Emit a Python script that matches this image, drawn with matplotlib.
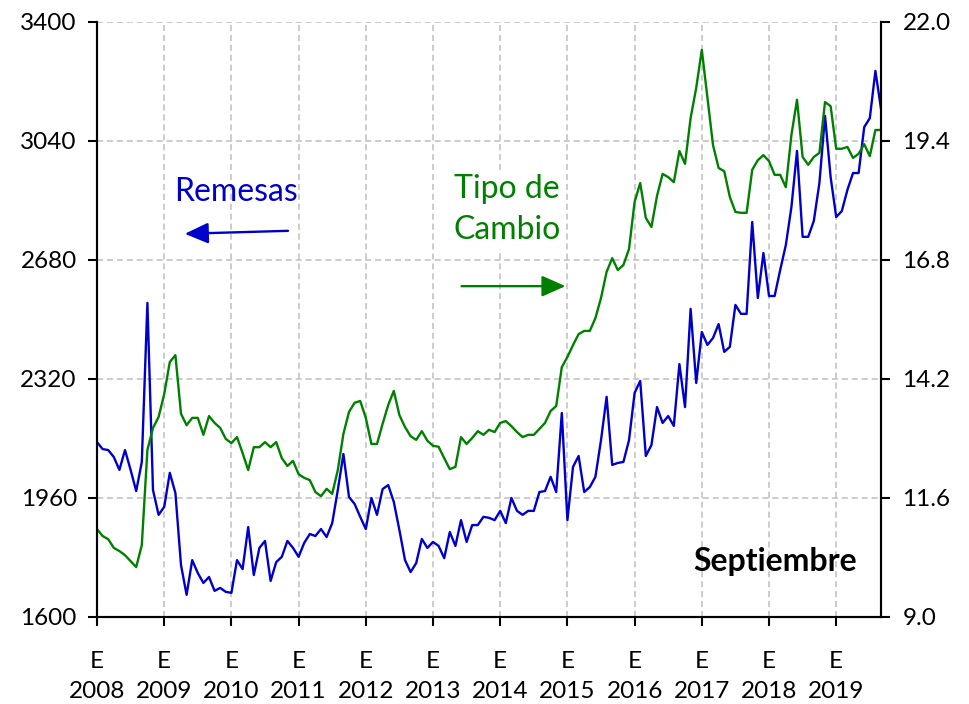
import numpy as np
import matplotlib.pyplot as plt

plt.rcParams['font.family'] = ['Lato', 'DejaVu Sans']

# Remesas (millones de dolares), mensual ene-2008 a sep-2019
remesas = [
    2129, 2108, 2105, 2084, 2045, 2105, 2045, 1981, 2069, 2550, 1984, 1909,
    1933, 2036, 1975, 1757, 1667, 1772, 1733, 1703, 1721, 1679, 1688, 1676,
    1673, 1772, 1745, 1872, 1727, 1809, 1830, 1709, 1766, 1782, 1830, 1809,
    1782, 1824, 1851, 1845, 1866, 1842, 1884, 1984, 2093, 1963, 1942, 1903,
    1866, 1960, 1909, 1987, 1999, 1948, 1863, 1772, 1736, 1763, 1836, 1809,
    1827, 1815, 1778, 1857, 1815, 1893, 1827, 1878, 1878, 1903, 1900, 1893,
    1921, 1884, 1960, 1921, 1909, 1921, 1921, 1978, 1981, 2024, 1978, 2217,
    1893, 2054, 2087, 1978, 1993, 2024, 2135, 2266, 2060, 2066, 2069, 2135,
    2278, 2314, 2087, 2120, 2235, 2187, 2208, 2178, 2365, 2235, 2532, 2308,
    2462, 2423, 2444, 2486, 2402, 2417, 2544, 2517, 2517, 2795, 2565, 2701,
    2571, 2571, 2650, 2725, 2840, 3010, 2750, 2750, 2798, 2913, 3116, 2931,
    2810, 2828, 2892, 2943, 2943, 3082, 3109, 3252, 3137,
]

# Tipo de cambio (pesos por dolar)
tipo_cambio = [
    10.92, 10.77, 10.70, 10.51, 10.44, 10.35, 10.22, 10.09, 10.57, 12.65, 13.13, 13.37,
    13.87, 14.57, 14.72, 13.44, 13.19, 13.35, 13.35, 12.98, 13.39, 13.24, 13.13, 12.89,
    12.80, 12.93, 12.58, 12.21, 12.71, 12.71, 12.82, 12.71, 12.82, 12.47, 12.30, 12.41,
    12.12, 12.04, 11.99, 11.73, 11.64, 11.80, 11.69, 12.21, 13.00, 13.48, 13.68, 13.72,
    13.35, 12.78, 12.78, 13.22, 13.63, 13.94, 13.41, 13.15, 12.95, 12.87, 13.06, 12.85,
    12.74, 12.72, 12.47, 12.23, 12.28, 12.93, 12.78, 12.91, 13.06, 12.98, 13.09, 13.04,
    13.24, 13.28, 13.17, 13.04, 12.93, 12.98, 12.98, 13.11, 13.24, 13.50, 13.61, 14.46,
    14.68, 14.94, 15.18, 15.25, 15.25, 15.53, 15.97, 16.54, 16.84, 16.58, 16.69, 17.04,
    18.07, 18.48, 17.72, 17.52, 18.20, 18.68, 18.61, 18.50, 19.18, 18.90, 19.90, 20.56,
    21.39, 20.36, 19.31, 18.81, 18.74, 18.18, 17.85, 17.83, 17.83, 18.77, 18.98, 19.09,
    18.96, 18.66, 18.66, 18.39, 19.53, 20.30, 19.05, 18.88, 19.05, 19.14, 20.25, 20.16,
    19.23, 19.23, 19.27, 19.03, 19.12, 19.33, 19.07, 19.64, 19.64,
]

years = list(range(2008, 2020))
left_ticks = [1600, 1960, 2320, 2680, 3040, 3400]
right_ticks = [9.0, 11.6, 14.2, 16.8, 19.4, 22.0]

x = 2008 + np.arange(len(remesas)) / 12

fig = plt.figure(figsize=(9.69, 7.04), dpi=100)
ax = fig.add_axes([0.1001, 0.1236, 0.8091, 0.8452])
ax2 = ax.twinx()

blue = '#0000CC'
green = '#008000'

ax.plot(x, remesas, color=blue, lw=1.7)
ax2.plot(x, tipo_cambio, color=green, lw=1.7)

ax.set_xlim(x[0], x[-1])
ax.set_ylim(1600, 3400)
ax2.set_ylim(9.0, 22.0)

ax.set_yticks(left_ticks)
ax.set_yticklabels([str(v) for v in left_ticks])
ax2.set_yticks(right_ticks)
ax2.set_yticklabels(['%.1f' % v for v in right_ticks])
ax.set_xticks(years)
ax.set_xticklabels(['E\n%d' % y for y in years], linespacing=1.5)

ax.grid(True, color='#BFBFBF', linestyle=(0, (4, 2.5)), lw=1.1)

for a in (ax, ax2):
    a.spines['top'].set_visible(False)
    for s in ('left', 'right', 'bottom'):
        a.spines[s].set_linewidth(1.5)
    a.tick_params(labelsize=17.5, width=1.5, length=6.5, direction='out')
ax.tick_params(axis='y', pad=8)
ax.tick_params(axis='x', pad=18)
ax2.tick_params(axis='y', pad=9)

# Etiquetas y flechas
ax.text(0.177, 0.714, 'Remesas', transform=ax.transAxes, color=blue,
        fontsize=23, ha='center', va='center')
ax.annotate('', xy=(0.112, 0.644), xytext=(0.2436, 0.649),
            xycoords='axes fraction', textcoords='axes fraction', fontsize=16,
            arrowprops=dict(arrowstyle='-|>,head_length=0.9,head_width=0.4',
                            color=blue, lw=1.7, shrinkA=0, shrinkB=0))

ax2.text(0.523, 0.685, 'Tipo de\nCambio', transform=ax.transAxes, color=green,
         fontsize=23, ha='center', va='center', linespacing=1.45,
         bbox=dict(facecolor='white', edgecolor='none', pad=3))
ax2.annotate('', xy=(0.5975, 0.556), xytext=(0.465, 0.556),
             xycoords='axes fraction', textcoords='axes fraction', fontsize=16,
             arrowprops=dict(arrowstyle='-|>,head_length=0.9,head_width=0.4',
                             color=green, lw=1.7, shrinkA=0, shrinkB=0))

ax2.text(0.865, 0.094, 'Septiembre', transform=ax.transAxes, color='black',
         fontsize=23, fontweight='bold', ha='center', va='center')

fig.savefig('out.png', dpi=100)
